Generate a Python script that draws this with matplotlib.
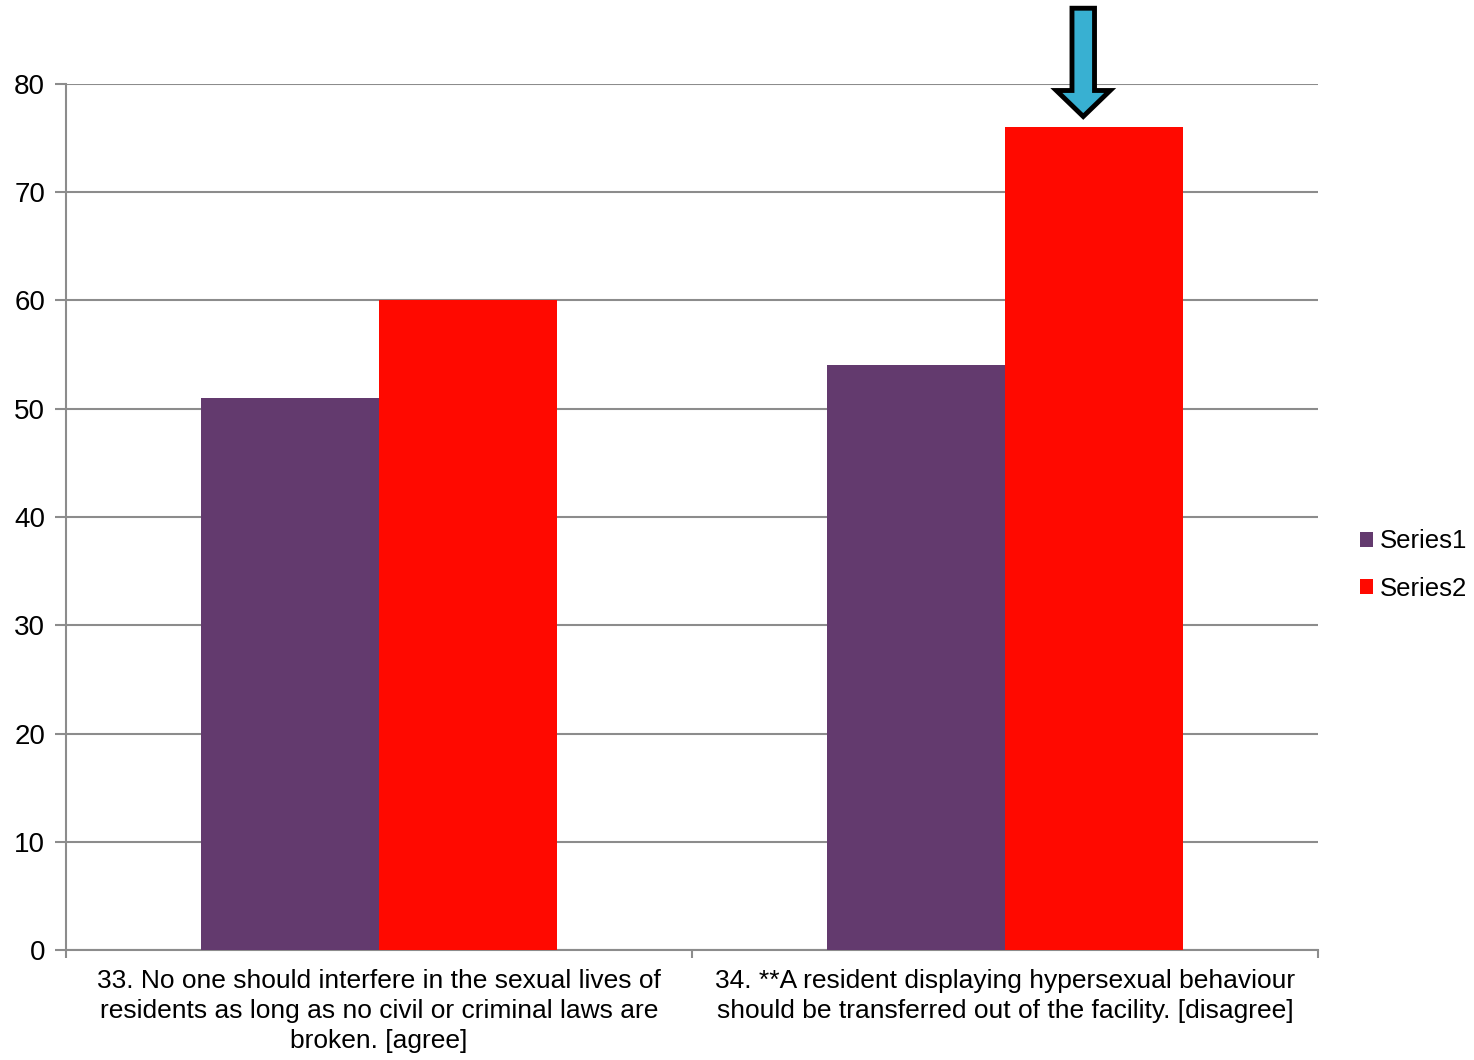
import matplotlib
matplotlib.use("Agg")
import matplotlib.pyplot as plt
import numpy as np
from matplotlib.patches import FancyArrow

categories = ["33. No one should interfere in the sexual lives of\nresidents as long as no civil or criminal laws are\nbroken. [agree]",
              "34. **A resident displaying hypersexual behaviour\nshould be transferred out of the facility. [disagree]"]
series1 = [51, 54]
series2 = [60, 76]
series_names = ["Series1", "Series2"]
yticks = [0, 10, 20, 30, 40, 50, 60, 70, 80]

plt.rcParams['font.family'] = ['Liberation Sans', 'DejaVu Sans']

fig = plt.figure(figsize=(14.74, 10.60), dpi=100)
ax = fig.add_axes([66/1474, 1-950/1060, (1318-66)/1474, (950-84)/1060])

x = np.arange(len(categories))
w = 0.285
c1, c2 = "#633A6E", "#FF0900"
ax.bar(x - w/2, series1, w, color=c1, label=series_names[0], zorder=3)
ax.bar(x + w/2, series2, w, color=c2, label=series_names[1], zorder=3)

ax.set_xlim(-0.5, 1.5)
ax.set_ylim(0, 80)
ax.set_yticks(yticks)
ax.yaxis.grid(True, color="#8C8C8C", linewidth=1.5, zorder=0)
ax.set_axisbelow(True)
for s in ["top", "right"]:
    ax.spines[s].set_visible(False)
for s in ["left", "bottom"]:
    ax.spines[s].set_color("#8C8C8C")
    ax.spines[s].set_linewidth(1.5)
ax.tick_params(axis="y", length=8, width=1.5, color="#8C8C8C", labelsize=20, pad=7)
ax.set_xticks([-0.5, 0.5, 1.5])
ax.set_xticklabels([])
ax.tick_params(axis="x", length=6, width=1.5, color="#8C8C8C")
for i, lab in enumerate(categories):
    ax.text(i, -1.8, lab, ha="center", va="top", fontsize=19, linespacing=1.3,
            transform=ax.transData)

# arrow annotation
arr = FancyArrow(1.125, 87.0, 0, -10.0, width=0.036, head_width=0.086,
                 head_length=2.4, length_includes_head=True,
                 facecolor="#38B0D2", edgecolor="black", linewidth=3.5,
                 clip_on=False, zorder=5)
ax.add_patch(arr)

h, l = ax.get_legend_handles_labels()
fig.legend(h, l, loc="center left", bbox_to_anchor=(1352/1474, 1-565/1060),
           frameon=False, fontsize=18.5, handlelength=0.5, handleheight=0.5,
           handletextpad=0.3, labelspacing=0.9, borderaxespad=0, borderpad=0.3)

fig.savefig("out.png", dpi=100)
